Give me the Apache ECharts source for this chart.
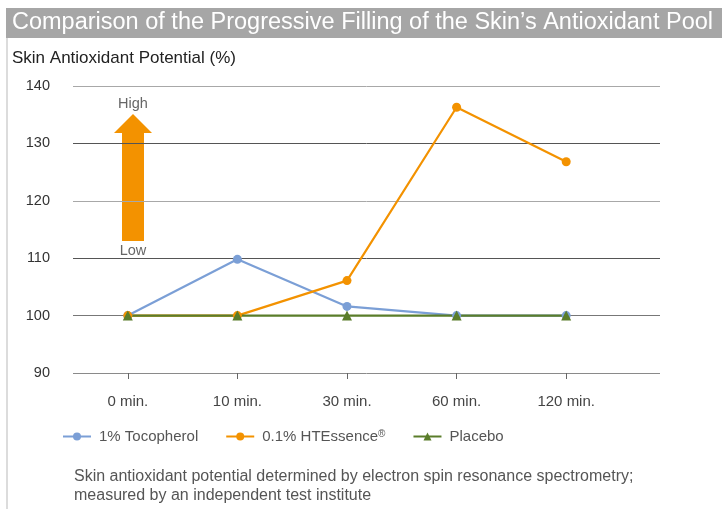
<!DOCTYPE html>
<html><head><meta charset="utf-8">
<script src="https://cdn.jsdelivr.net/npm/echarts@6/dist/echarts.min.js"></script>
<style>html,body{margin:0;padding:0;background:#fff}#c{width:722px;height:509px}</style>
</head><body><div id="c"></div>
<script>
const categories = ['0 min.', '10 min.', '30 min.', '60 min.', '120 min.'];
const tocopherol = [100, 109.8, 101.6, 100, 100];
const htessence = [100, 100, 106.1, 136.3, 126.8];
const placebo = [100, 100, 100, 100, 100];
const seriesNames = ['1% Tocopherol', '0.1% HTEssence\u00AE', 'Placebo'];
const yMin = 90, yMax = 140, yStep = 10;

const FONT = '"Liberation Sans", Arial, sans-serif';
const chart = echarts.init(document.getElementById('c'), null, {renderer: 'canvas'});

// bottom-to-top colours of the horizontal grid lines
const gridColors = ['#8a8a8a', '#777', '#555', '#a8a8a8', '#555', '#a8a8a8'];

chart.setOption({
  animation: false,
  textStyle: {fontFamily: FONT},
  grid: [
    {left: 73, right: 62, top: 86, bottom: 136},
    {left: 73, right: 101, top: 86, bottom: 136}
  ],
  xAxis: [
    {gridIndex: 0, type: 'value', show: false, min: 0, max: 1},
    {gridIndex: 1, type: 'category', data: categories, boundaryGap: true,
     axisLine: {show: false},
     axisTick: {show: true, alignWithLabel: true, length: 6, lineStyle: {color: '#666'}},
     axisLabel: {margin: 21, color: '#444', fontSize: 15, fontFamily: FONT}}
  ],
  yAxis: [
    {gridIndex: 0, type: 'value', min: yMin, max: yMax, interval: yStep,
     axisLine: {show: false}, axisTick: {show: false},
     axisLabel: {margin: 23, color: '#333', fontSize: 14.5, fontFamily: FONT},
     splitLine: {show: true, lineStyle: {color: gridColors, width: 1}}},
    {gridIndex: 1, type: 'value', min: yMin, max: yMax, interval: yStep, show: false,
     splitLine: {show: false}}
  ],
  legend: {
    left: 57, top: 424,
    itemWidth: 28, itemHeight: 10, itemGap: 27,
    formatter: function (name) { return name.replace('\u00AE', '{sup|\u00AE}'); },
    textStyle: {fontSize: 15, color: '#555', fontFamily: FONT, padding: [0, 0, 0, 3],
      rich: {sup: {fontSize: 10, color: '#555', fontFamily: FONT, verticalAlign: 'top', padding: [0, 0, 5, 0]}}},
    data: seriesNames
  },
  series: [
    {name: seriesNames[0], type: 'line', xAxisIndex: 1, yAxisIndex: 1, data: tocopherol,
     symbol: 'circle', symbolSize: 9, color: '#7b9fd6', lineStyle: {width: 2.2}},
    {name: seriesNames[1], type: 'line', xAxisIndex: 1, yAxisIndex: 1, data: htessence,
     symbol: 'circle', symbolSize: 9, color: '#f39200', lineStyle: {width: 2.2}},
    {name: seriesNames[2], type: 'line', xAxisIndex: 1, yAxisIndex: 1, data: placebo,
     symbol: 'triangle', symbolSize: 10, color: '#5a7d2a', lineStyle: {width: 2.2}}
  ],
  graphic: [
    {type: 'rect', shape: {x: 6, y: 8, width: 716, height: 30}, style: {fill: '#a6a6a6'}, silent: true},
    {type: 'rect', shape: {x: 6, y: 38, width: 2, height: 471}, style: {fill: '#dcdcdc'}, silent: true},
    {type: 'text', x: 12, y: 23, style: {text: 'Comparison of the Progressive Filling of the Skin\u2019s Antioxidant Pool',
      fill: '#fff', font: '23.5px ' + FONT, verticalAlign: 'middle'}},
    {type: 'text', x: 12, y: 58, style: {text: 'Skin Antioxidant Potential (%)', fill: '#222', font: '17px ' + FONT, verticalAlign: 'middle'}},
    {type: 'polygon', shape: {points: [[122, 241], [144, 241], [144, 133], [152, 133], [133, 114], [114, 133], [122, 133]]},
     style: {fill: '#f39200'}, silent: true},
    {type: 'text', x: 133, y: 104, style: {text: 'High', fill: '#666', font: '14.5px ' + FONT, align: 'center', verticalAlign: 'middle'}},
    {type: 'text', x: 133, y: 251, style: {text: 'Low', fill: '#666', font: '14.5px ' + FONT, align: 'center', verticalAlign: 'middle'}},
    {type: 'text', x: 74, y: 467, style: {text: 'Skin antioxidant potential determined by electron spin resonance spectrometry;\nmeasured by an independent test institute',
      fill: '#555', font: '16px ' + FONT, lineHeight: 19}}
  ]
});
</script></body></html>
